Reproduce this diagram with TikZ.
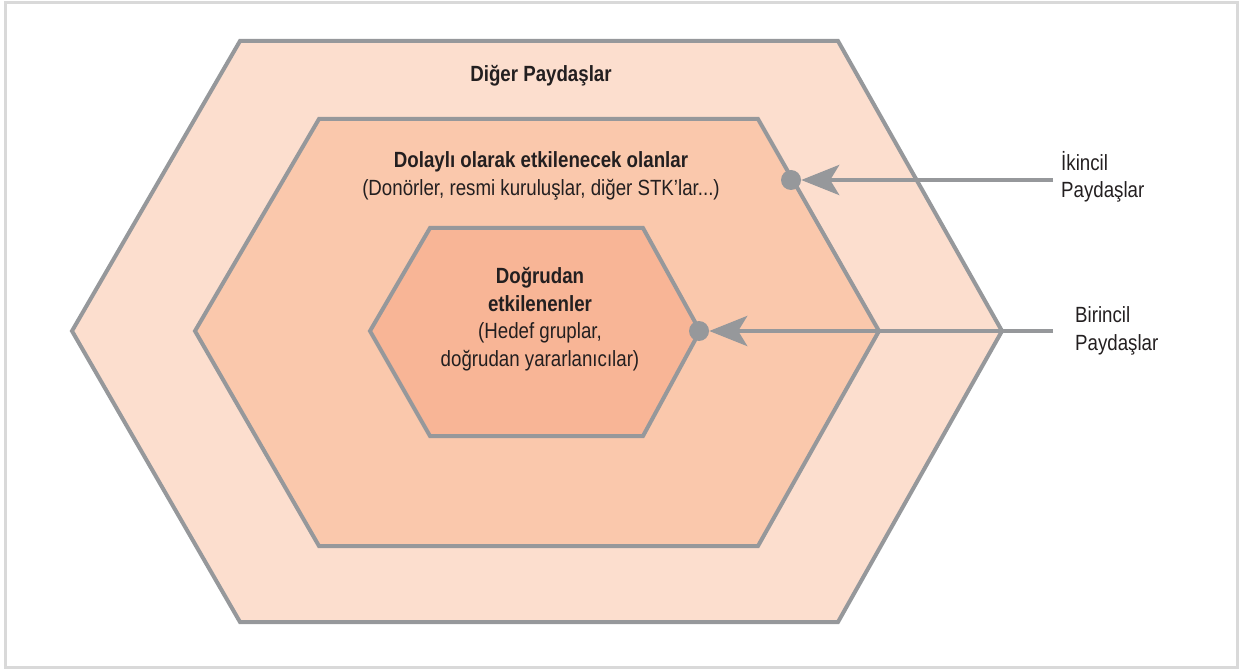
\documentclass[tikz,border=0pt]{standalone}
\usepackage{fontspec}
\setmainfont[FakeStretch=0.85]{Liberation Sans}
\usetikzlibrary{arrows.meta}
\definecolor{hexline}{RGB}{150,152,155}
\definecolor{framegray}{RGB}{217,217,217}
\definecolor{outerfill}{RGB}{252,222,206}
\definecolor{midfill}{RGB}{250,200,172}
\definecolor{innerfill}{RGB}{248,181,150}
\definecolor{txt}{RGB}{35,31,32}
\begin{document}
\begin{tikzpicture}[x=1pt,y=-1pt,
 hx/.style={draw=hexline,line width=4pt,line join=miter},
 tx/.style={text=txt,font=\fontsize{22}{27.5}\selectfont,align=center,inner sep=0pt},
 tb/.style={tx,font=\fontsize{22}{27.5}\selectfont\bfseries},
 dot/.style={circle,fill=hexline,minimum size=20pt,inner sep=0pt},
 ar/.style={draw=hexline,line width=4pt,-{Stealth[length=38pt,width=30pt,inset=9pt]}}]
\useasboundingbox (0,0) rectangle (1240,671);
\draw[framegray,line width=3pt] (5.5,2.5) rectangle (1237.5,667.5);
% three hexagons
\path[hx,fill=outerfill] (72,331) -- (240,41) -- (838,41) -- (1002,331) -- (838,622) -- (240,622) -- cycle;
\path[hx,fill=midfill] (195,331) -- (319,119) -- (758,119) -- (879,331) -- (758,546) -- (319,546) -- cycle;
\path[hx,fill=innerfill] (370,331) -- (430,228) -- (643,228) -- (700,331) -- (643,436) -- (430,436) -- cycle;
% texts
\node[tb] (other) at (541,76) {Diğer Paydaşlar};
\node[tx] (indirect) at (541,176) {\textbf{Dolaylı olarak etkilenecek olanlar}\\(Donörler, resmi kuruluşlar, diğer STK’lar...)};
\node[tx] (direct) at (540,319) {\textbf{Doğrudan}\\\textbf{etkilenenler}\\(Hedef gruplar,\\doğrudan yararlanıcılar)};
\node[tx,align=left,anchor=west] (second) at (1061,177) {İkincil\\Paydaşlar};
\node[tx,align=left,anchor=west] (first) at (1075,331) {Birincil\\Paydaşlar};
% pointers
\node[dot] (d1) at (791,180) {};
\node[dot] (d2) at (699,331) {};
\coordinate (s1) at (1053,180);
\coordinate (s2) at (1053,331);
\draw[ar] (s1) -- (d1);
\draw[ar] (s2) -- (d2);
\end{tikzpicture}
\end{document}
